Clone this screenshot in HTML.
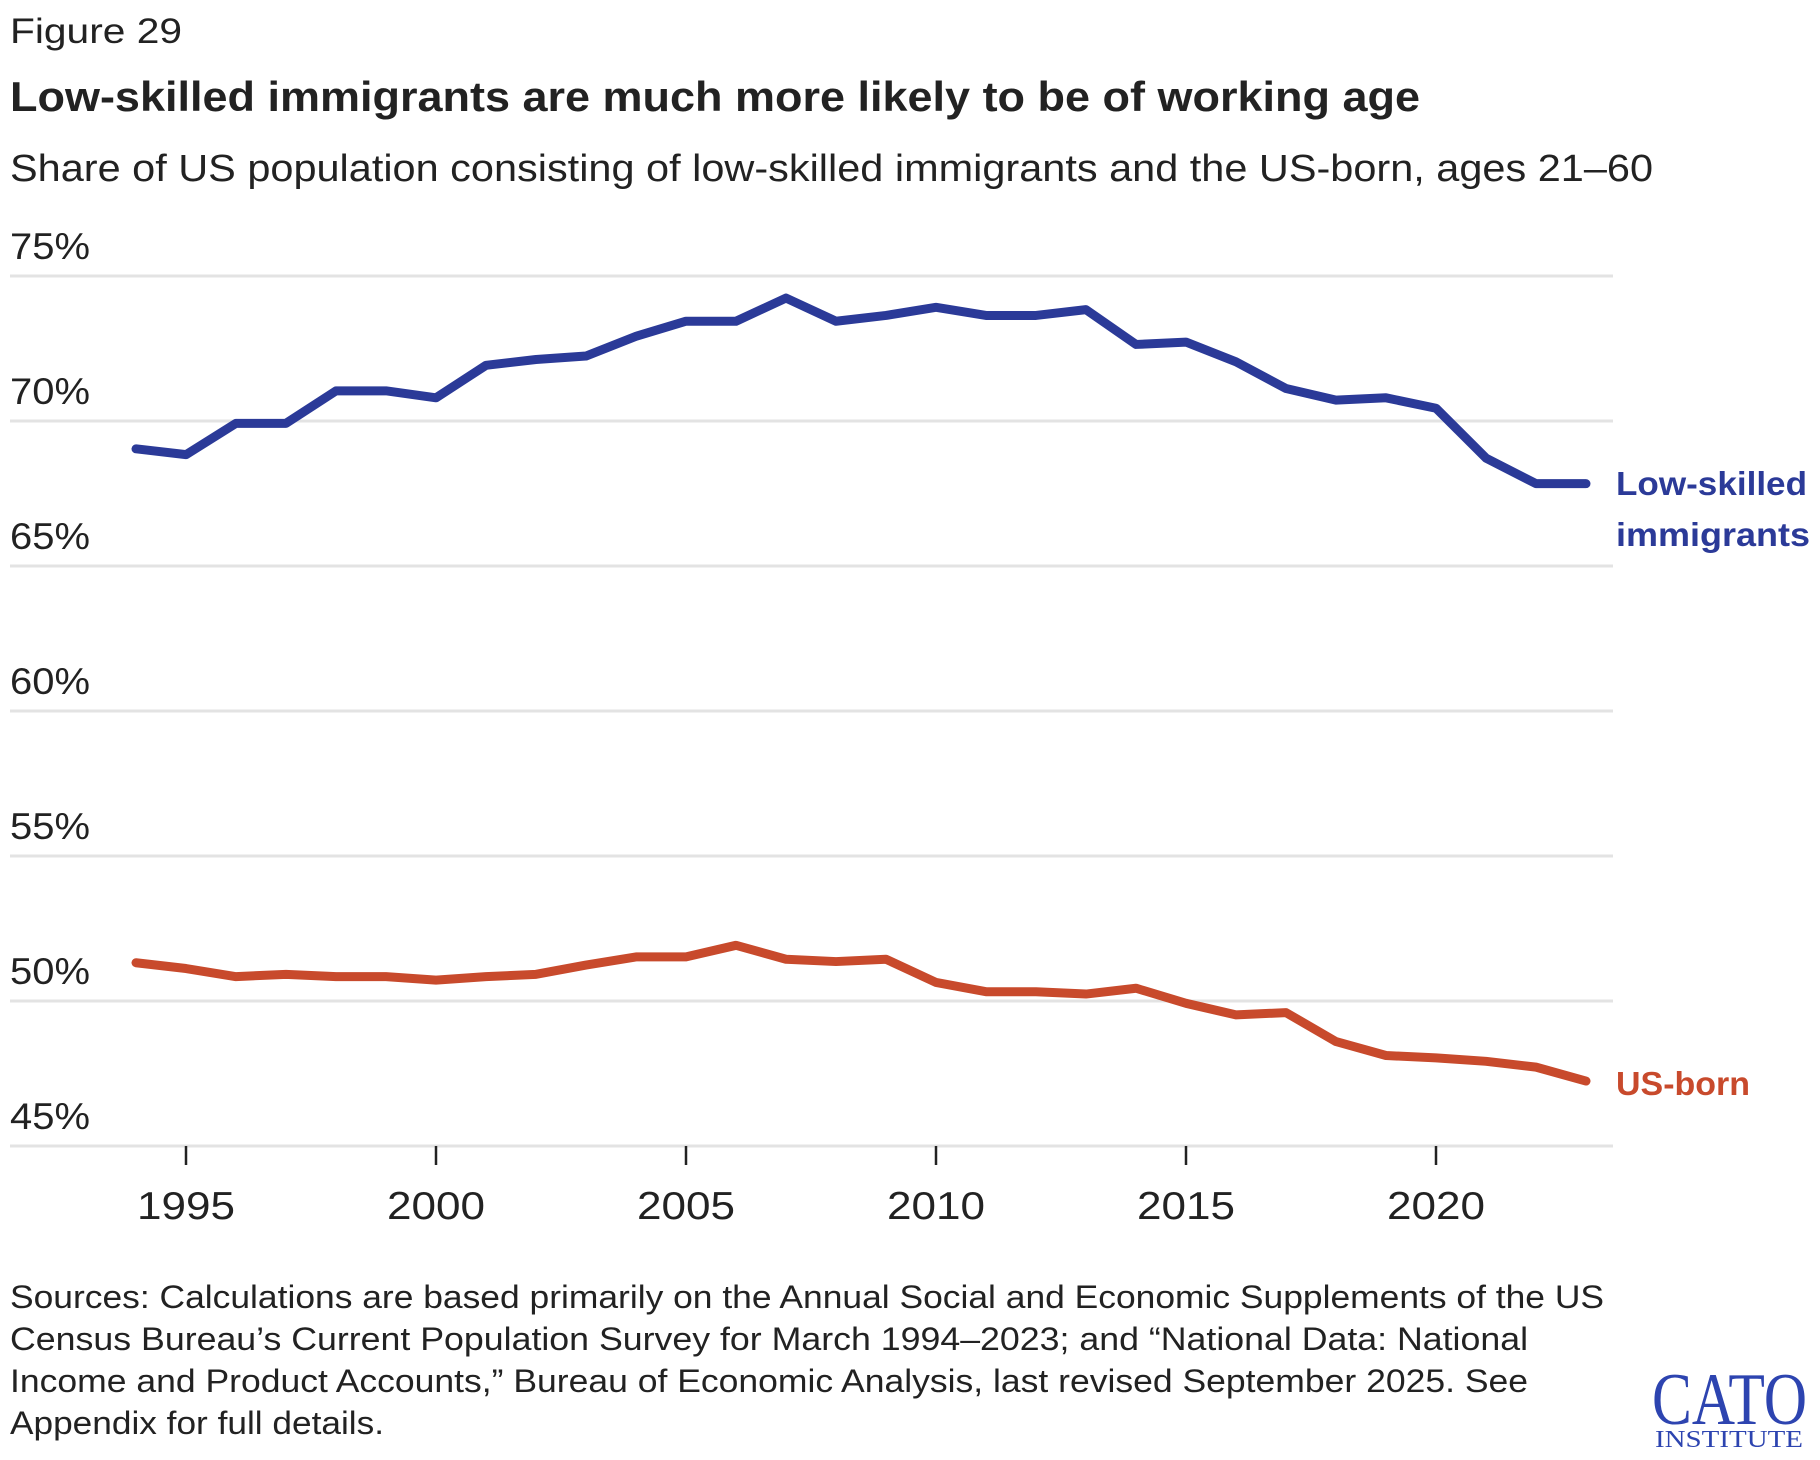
<!DOCTYPE html>
<html><head><meta charset="utf-8"><style>
html,body{margin:0;padding:0;background:#fff;}
svg{display:block;font-family:"Liberation Sans",sans-serif;}
</style></head><body>
<svg id="chart" width="1820" height="1460" viewBox="0 0 1820 1460">
<text x="10" y="43" font-size="35" fill="#222" textLength="172" lengthAdjust="spacingAndGlyphs">Figure 29</text>
<text x="10" y="111" font-size="42" font-weight="bold" fill="#222" textLength="1410" lengthAdjust="spacingAndGlyphs">Low-skilled immigrants are much more likely to be of working age</text>
<text x="10" y="181" font-size="38" fill="#222" textLength="1643" lengthAdjust="spacingAndGlyphs">Share of US population consisting of low-skilled immigrants and the US-born, ages 21–60</text>
<g id="grid"></g><g id="xaxis"></g><g id="lines"></g>
<text x="1616" y="495" font-size="33" font-weight="bold" fill="#2b3a98" textLength="191" lengthAdjust="spacingAndGlyphs">Low-skilled</text>
<text x="1616" y="546" font-size="33" font-weight="bold" fill="#2b3a98" textLength="194" lengthAdjust="spacingAndGlyphs">immigrants</text>
<text x="1616" y="1095" font-size="33" font-weight="bold" fill="#c84a2c" textLength="134" lengthAdjust="spacingAndGlyphs">US-born</text>
<g font-size="32" fill="#222">
<text x="10" y="1308" textLength="1594" lengthAdjust="spacingAndGlyphs">Sources: Calculations are based primarily on the Annual Social and Economic Supplements of the US</text>
<text x="10" y="1350" textLength="1518" lengthAdjust="spacingAndGlyphs">Census Bureau’s Current Population Survey for March 1994–2023; and “National Data: National</text>
<text x="10" y="1392" textLength="1518" lengthAdjust="spacingAndGlyphs">Income and Product Accounts,” Bureau of Economic Analysis, last revised September 2025. See</text>
<text x="10" y="1434" textLength="374" lengthAdjust="spacingAndGlyphs">Appendix for full details.</text>
</g>
<g>
<text x="1652" y="1424" font-family="Liberation Serif,serif" font-size="74" fill="#2d44b0" textLength="155" lengthAdjust="spacingAndGlyphs">CATO</text>
<text x="1655" y="1447" font-family="Liberation Serif,serif" font-size="24" fill="#2d44b0" textLength="148" lengthAdjust="spacingAndGlyphs">INSTITUTE</text>
</g>
</svg>
<script>
const years=[1994,1995,1996,1997,1998,1999,2000,2001,2002,2003,2004,2005,2006,2007,2008,2009,2010,2011,2012,2013,2014,2015,2016,2017,2018,2019,2020,2021,2022,2023];
const immigrants=[69.04,68.84,69.92,69.92,71.04,71.04,70.8,71.92,72.12,72.24,72.92,73.44,73.44,74.24,73.44,73.64,73.92,73.64,73.64,73.84,72.64,72.72,72.04,71.12,70.72,70.8,70.44,68.72,67.84,67.84];
const usBorn=[51.32,51.12,50.84,50.92,50.84,50.84,50.72,50.84,50.92,51.24,51.52,51.52,51.92,51.44,51.36,51.44,50.64,50.32,50.32,50.24,50.44,49.92,49.52,49.6,48.6,48.12,48.04,47.92,47.72,47.24];
const yTicks=[45,50,55,60,65,70,75];
const yTickLabels=["45%","50%","55%","60%","65%","70%","75%"];
const xTicks=[1995,2000,2005,2010,2015,2020];
const NS="http://www.w3.org/2000/svg";
const xS=y=>186+(y-1995)*50;
const yS=v=>1146-(v-45)*29;
function mk(tag,attrs,parent){const e=document.createElementNS(NS,tag);for(const k in attrs)e.setAttribute(k,attrs[k]);parent.appendChild(e);return e;}
const grid=document.getElementById('grid');
yTicks.forEach((t,i)=>{
 const l=mk('line',{x1:10,x2:1613,y1:yS(t),y2:yS(t),stroke:'#e3e3e3','stroke-width':3},grid);
 
 
 const tx=mk('text',{x:10,y:yS(t)-17,'font-size':37,fill:'#222',textLength:80,lengthAdjust:'spacingAndGlyphs'},grid);
 tx.textContent=yTickLabels[i];
 
 
});
const xa=document.getElementById('xaxis');
xTicks.forEach(t=>{
 const l=mk('line',{x1:xS(t),x2:xS(t),y1:1146,y2:1165,stroke:'#222','stroke-width':2.5},xa);
 
 
 const tx=mk('text',{x:xS(t),y:1219,'font-size':39,fill:'#222','text-anchor':'middle',textLength:98,lengthAdjust:'spacingAndGlyphs'},xa);
 tx.textContent=t;
 
 
});
const lg=document.getElementById('lines');
function series(vals,color,name){
 const d=vals.map((v,i)=>(i?'L':'M')+xS(years[i])+','+yS(v)).join(' ');
 const p=mk('path',{d:d,fill:'none',stroke:color,'stroke-width':9,'stroke-linejoin':'round','stroke-linecap':'round'},lg);
 
 
}
series(immigrants,'#2b3a98','line-low-skilled-immigrants');
series(usBorn,'#c84a2c','line-us-born');
</script>
</body></html>
